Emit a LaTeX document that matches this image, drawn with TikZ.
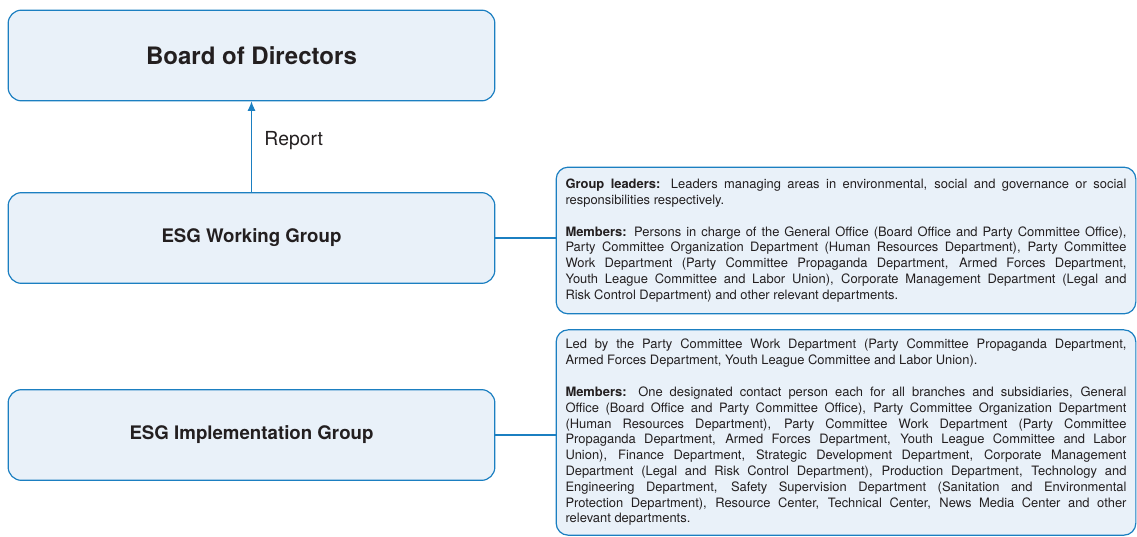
\documentclass[tikz,border=0pt]{standalone}
\usepackage{fontspec}
\setmainfont{TeX Gyre Heros}
\usetikzlibrary{arrows.meta}
\definecolor{bleu}{HTML}{1B7FC1}
\definecolor{fond}{HTML}{E9F1F9}
\definecolor{encre}{HTML}{231F20}
\hyphenpenalty=10000
\begin{document}
\begin{tikzpicture}[x=0.75pt,y=-0.75pt]
\tikzset{bloc/.style={draw=bleu, fill=fond, line width=0.9pt, rounded corners=10pt, minimum width=365pt, minimum height=68pt, text=encre, font=\bfseries\fontsize{14}{17}\selectfont},
texte/.style={draw=bleu, fill=fond, line width=0.9pt, rounded corners=9pt, text width=420.75pt, align=justify, inner xsep=7pt, text=encre, font=\fontsize{9.7}{11.85}\selectfont}}
\useasboundingbox (0,0) rectangle (1137,536);
\node[bloc, font=\bfseries\fontsize{18}{22}\selectfont] (N1) at (251.5,55.5) {Board of Directors};
\node[bloc] (N2) at (251.5,238) {ESG Working Group};
\node[bloc] (N3) at (251.5,435) {ESG Implementation Group};
\node[texte, minimum height=110pt] (T2) at (846,240.5) {\textbf{Group leaders:} Leaders managing areas in environmental, social and governance or social\linebreak responsibilities respectively.\par\vspace{12pt}
\textbf{Members:} Persons in charge of the General Office (Board Office and Party Committee Office),\linebreak Party Committee Organization Department (Human Resources Department), Party Committee\linebreak Work Department (Party Committee Propaganda Department, Armed Forces Department,\linebreak Youth League Committee and Labor Union), Corporate Management Department (Legal and\linebreak Risk Control Department) and other relevant departments.};
\node[texte, minimum height=154pt] (T3) at (846,432.5) {Led by the Party Committee Work Department (Party Committee Propaganda Department,\linebreak Armed Forces Department, Youth League Committee and Labor Union).\par\vspace{12pt}
\textbf{Members:} One designated contact person each for all branches and subsidiaries, General\linebreak Office (Board Office and Party Committee Office), Party Committee Organization Department\linebreak (Human Resources Department), Party Committee Work Department (Party Committee\linebreak Propaganda Department, Armed Forces Department, Youth League Committee and Labor\linebreak Union), Finance Department, Strategic Development Department, Corporate Management\linebreak Department (Legal and Risk Control Department), Production Department, Technology and\linebreak Engineering Department, Safety Supervision Department (Sanitation and Environmental\linebreak Protection Department), Resource Center, Technical Center, News Media Center and other\linebreak relevant departments.};
\draw[bleu, line width=0.8pt, -{Latex[length=7pt,width=6pt]}] (N2) -- (N1) node[pos=0.57, right=6pt, text=encre, font=\fontsize{14.5}{17}\selectfont] {Report};
\draw[bleu, line width=0.8pt] (N2.east) -- (N2.east -| T2.west);
\draw[bleu, line width=0.8pt] (N3.east) -- (N3.east -| T3.west);
\end{tikzpicture}
\end{document}
